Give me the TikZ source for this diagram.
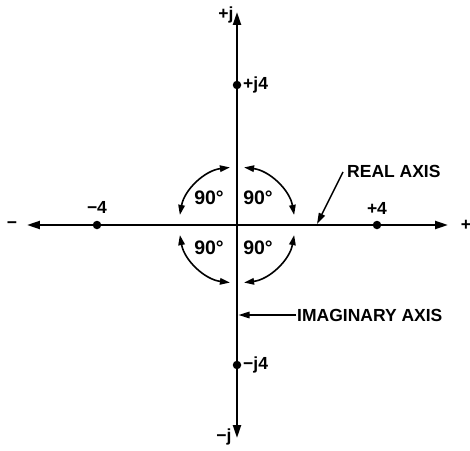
\documentclass[tikz,border=0pt]{standalone}
\usepackage{fontspec}
\setmainfont{Liberation Sans}
\usetikzlibrary{arrows.meta}
\begin{document}
\begin{tikzpicture}[x=1pt,y=1pt,
  axis/.style={line width=2.2pt,-{Triangle[length=13pt,width=8pt]}},
  arcarrow/.style={line width=1.6pt,{Triangle[length=10pt,width=6.5pt]}-{Triangle[length=10pt,width=6.5pt]}},
  leader/.style={line width=1.5pt,-{Triangle[length=11pt,width=6.5pt]}},
  pt/.style={circle,fill=black,inner sep=0pt,minimum size=8.5pt},
  lbl/.style={font=\bfseries\fontsize{17.5}{18}\selectfont,inner sep=1pt},
  deg/.style={font=\bfseries\fontsize{19.5}{20}\selectfont,inner sep=1pt}]
\useasboundingbox (-237,-225) rectangle (233,225);
\coordinate (O) at (0,0);
\coordinate (L) at (-210,0);
\coordinate (R) at (211,0);
\coordinate (T) at (0,213);
\coordinate (B) at (0,-213);
\draw[axis] (O) -- (L);
\draw[axis] (O) -- (R);
\draw[axis] (O) -- (T);
\draw[axis] (O) -- (B);
% points
\node[pt] (m4) at (-140,0) {};
\node[pt] (p4) at (140,0) {};
\node[pt] (pj4) at (0,140) {};
\node[pt] (mj4) at (0,-140) {};
% labels
\node[lbl] (lm4) at (-140,18) {−4};
\node[lbl] (lp4) at (140,17) {+4};
\node[lbl,anchor=west] (lpj4) at (5,140) {+j4};
\node[lbl,anchor=west] (lmj4) at (5,-140) {−j4};
\node[lbl] (lpj) at (-11,210) {+j};
\node[lbl] (lmj) at (-13,-212) {−j};
\node[lbl] (lminus) at (-225,0) {−};
\node[lbl] (lplus) at (229,0) {+};
% 90 degree labels
\node[deg] (q1) at (21,27) {90°};
\node[deg] (q2) at (-28,27) {90°};
\node[deg] (q3) at (-28,-23) {90°};
\node[deg] (q4) at (21,-23) {90°};
% arcs
\draw[arcarrow] (O) ++(10:58) arc[start angle=10,end angle=83,radius=58];
\draw[arcarrow] (O) ++(97:58) arc[start angle=97,end angle=170,radius=58];
\draw[arcarrow] (O) ++(190:58) arc[start angle=190,end angle=263,radius=58];
\draw[arcarrow] (O) ++(277:58) arc[start angle=277,end angle=350,radius=58];
% leaders
\node[lbl,anchor=west] (real) at (109,54) {REAL\ AXIS};
\coordinate (rtip) at (80,1);
\draw[leader] (106,53) -- (rtip);
\node[lbl,anchor=west] (imag) at (59,-90) {IMAGINARY\ AXIS};
\coordinate (itip) at (1.5,-90);
\draw[leader] (imag.west) -- (itip);
\end{tikzpicture}
\end{document}
